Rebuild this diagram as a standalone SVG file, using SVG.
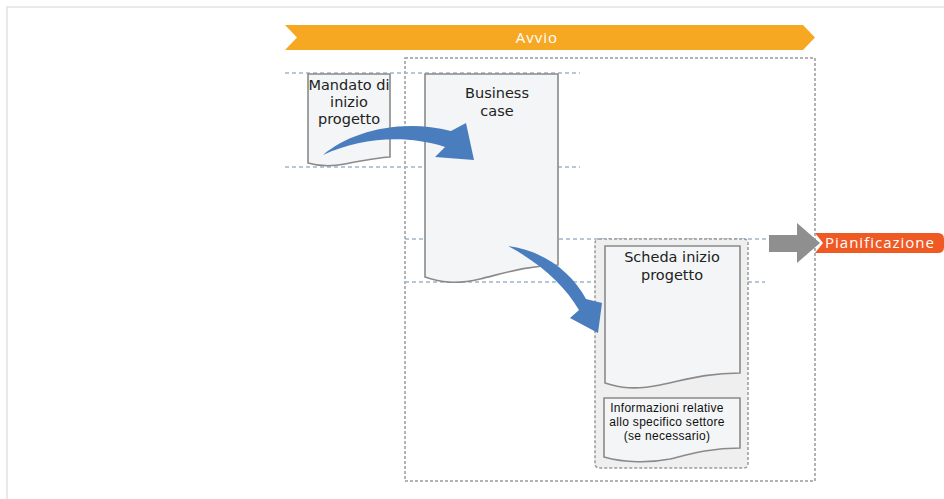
<svg xmlns="http://www.w3.org/2000/svg" width="944" height="499" viewBox="0 0 944 499">
<style>
.frame{fill:none;stroke:#e2e2e2;stroke-width:1.5}
.gd{fill:none;stroke:#9a9a9a;stroke-width:1.5;stroke-dasharray:3 2}
.bd{fill:none;stroke:#9fb4cf;stroke-width:1.5;stroke-dasharray:4 3}
.doc{fill:#f3f5f6;stroke:#8a8a8a;stroke-width:1.6}
.t{font-family:"DejaVu Sans",Verdana,sans-serif;font-size:14.5px;fill:#222;text-anchor:middle}
.ts{font-family:"Liberation Sans",Arial,sans-serif;font-size:12px;fill:#111;text-anchor:middle;letter-spacing:0.3px}
.bt{font-family:"Open Sans","DejaVu Sans",sans-serif;font-size:15px;fill:#fff;text-anchor:middle;letter-spacing:1px}
.blue{fill:#4a7dbd}
</style>
<rect width="944" height="499" fill="#fff"/>
<path class="frame" d="M7,499 V7 H944"/>
<g id="avvio">
<path d="M285,25 H803 L815,37.5 L803,50 H285 L297,37.5 Z" fill="#f7a823"/>
<text class="bt" x="537" y="43">Avvio</text>
</g>
<g id="guides">
<rect class="gd" x="405" y="58" width="410" height="423"/>
<line class="bd" x1="285" y1="73" x2="580" y2="73"/>
<line class="bd" x1="285" y1="167" x2="580" y2="167"/>
<line class="bd" x1="405" y1="239" x2="770" y2="239"/>
<line class="bd" x1="405" y1="282" x2="765" y2="282"/>
</g>
<g id="mandato">
<path class="doc" d="M308,74 H390 V157 C375,158 360,161 345,164 C330,167 318,166 308,163 Z"/>
<text class="t" x="349" y="90">Mandato di</text>
<text class="t" x="349" y="107">inizio</text>
<text class="t" x="349" y="124">progetto</text>
</g>
<g id="business">
<path class="doc" d="M425,74 H558 V265 C525,266 505,273 480,279 C455,285 440,282 425,277 Z"/>
<text class="t" x="497" y="98">Business</text>
<text class="t" x="497" y="116">case</text>
</g>
<g id="scheda-group">
<rect x="595" y="239" width="153" height="229" rx="4" fill="#efefef" stroke="#9a9a9a" stroke-width="1.5" stroke-dasharray="3 2"/>
<g id="scheda">
<path class="doc" d="M605,246 H740 V373 C705,373 685,380 660,385 C635,390 620,388 605,383 Z" fill="#fbfbfc" stroke-width="2"/>
<text class="t" x="672" y="262">Scheda inizio</text>
<text class="t" x="672" y="280">progetto</text>
</g>
<g id="info">
<path class="doc" d="M604,398 H740 V448 C710,448 690,454 670,459 C650,463 625,463 604,457 Z" fill="#fbfbfc" stroke-width="2"/>
<text class="ts" x="667" y="412">Informazioni relative</text>
<text class="ts" x="667" y="426">allo specifico settore</text>
<text class="ts" x="667" y="440">(se necessario)</text>
</g>
</g>
<g id="pianificazione">
<path d="M815,233 H938 Q944,233 944,239 V247 Q944,253 938,253 H815 L823,243 Z" fill="#ef5a24"/>
<text class="bt" x="880" y="248">Pianificazione</text>
</g>
<g id="connectors">
<path class="blue" d="M323,155 C350,132 400,118 451,131 L466,123 L474,160 L435,157 L445,147 C405,134 360,138 323,155 Z"/>
<path class="blue" d="M508,246 C545,251 572,273 586,299 L602,303 L598,333 L570,318 L579,310 C565,286 540,263 508,246 Z"/>
<path d="M769,235 H797 V223 L820,243 L797,263 V252 H769 Z" fill="#8f8f8f"/>
</g>
</svg>
